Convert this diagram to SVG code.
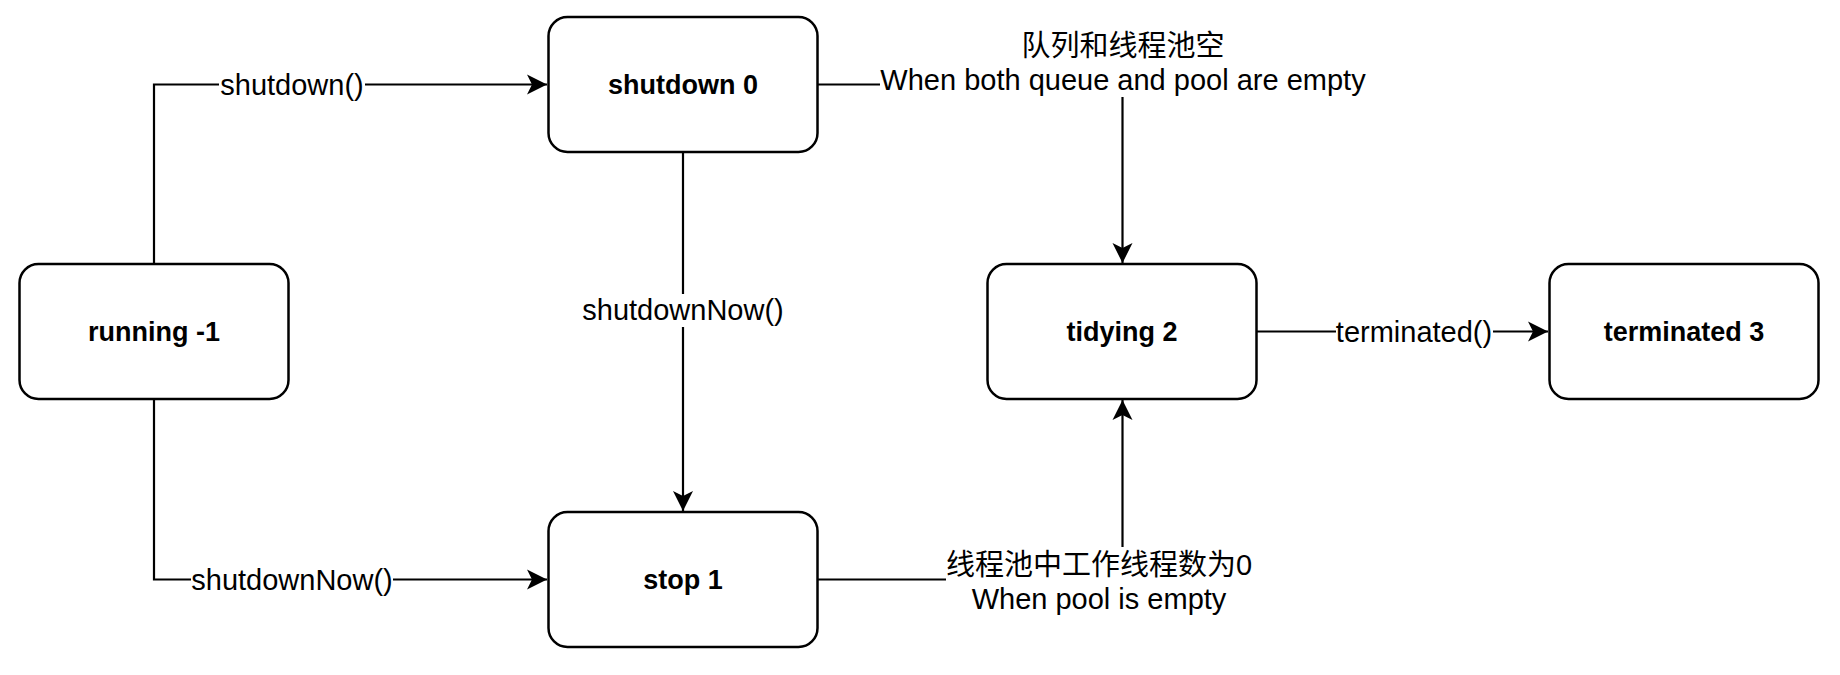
<svg xmlns="http://www.w3.org/2000/svg" width="1840" height="675" viewBox="0 0 1840 675">
<style>
.node rect{fill:#fff;stroke:#000;stroke-width:2.5}
.node text{font-family:"Liberation Sans",Arial,sans-serif;font-weight:bold;font-size:27px;text-anchor:middle;fill:#000}
.edge{fill:none;stroke:#000;stroke-width:2.2}
.lbl{font-family:"Liberation Sans",Arial,"Noto Sans CJK SC",sans-serif;font-size:29px;text-anchor:middle;fill:#000}
.bg{fill:#fff;stroke:none}
</style>
<defs>
<marker id="arr" viewBox="-21 -11 22 22" markerWidth="22" markerHeight="22" refX="0" refY="0" orient="auto" markerUnits="userSpaceOnUse">
<path d="M0,0 L-20,-10 L-15,0 L-20,10 Z" fill="#000"/>
</marker>
</defs>
<rect width="1840" height="675" fill="#fff"/>
<g id="connectors">
<path class="edge" d="M154,264 V84.5 H547" marker-end="url(#arr)"/>
<path class="edge" d="M154,399 V579.5 H547" marker-end="url(#arr)"/>
<path class="edge" d="M683,152 V511" marker-end="url(#arr)"/>
<path class="edge" d="M817,84.5 H1122.5 V263" marker-end="url(#arr)"/>
<path class="edge" d="M817,579.5 H1122.5 V400" marker-end="url(#arr)"/>
<path class="edge" d="M1257,331.5 H1548" marker-end="url(#arr)"/>
<rect class="bg" x="219" y="68" width="146" height="33"/>
<text class="lbl" x="292" y="94.5">shutdown()</text>
<rect class="bg" x="191" y="563" width="202" height="33"/>
<text class="lbl" x="292" y="589.5">shutdownNow()</text>
<rect class="bg" x="582" y="294" width="202" height="33"/>
<text class="lbl" x="683" y="320">shutdownNow()</text>
<rect class="bg" x="1336" y="315" width="157" height="33"/>
<text class="lbl" x="1414" y="341.5">terminated()</text>
<rect class="bg" x="880" y="28" width="490" height="69"/>
<text class="lbl" x="1123" y="56">队列和线程池空</text>
<text class="lbl" x="1123" y="90">When both queue and pool are empty</text>
<rect class="bg" x="946" y="547" width="306" height="73"/>
<text class="lbl" x="1099" y="575">线程池中工作线程数为0</text>
<text class="lbl" x="1099" y="609">When pool is empty</text>
</g>
<g id="running" class="node"><rect x="19.5" y="264" width="269" height="135" rx="19"/><text x="154" y="341">running -1</text></g>
<g id="shutdown" class="node"><rect x="548.5" y="17" width="269" height="135" rx="19"/><text x="683" y="94">shutdown 0</text></g>
<g id="stop" class="node"><rect x="548.5" y="512" width="269" height="135" rx="19"/><text x="683" y="589">stop 1</text></g>
<g id="tidying" class="node"><rect x="987.5" y="264" width="269" height="135" rx="19"/><text x="1122" y="341">tidying 2</text></g>
<g id="terminated" class="node"><rect x="1549.5" y="264" width="269" height="135" rx="19"/><text x="1684" y="341">terminated 3</text></g>
</svg>
